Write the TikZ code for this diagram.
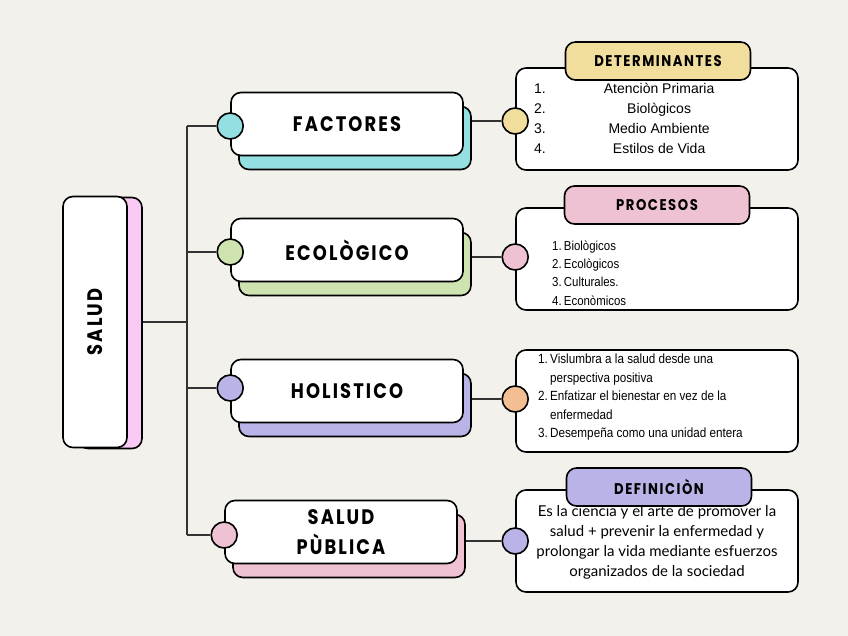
\documentclass[tikz,border=0pt]{standalone}
\usepackage{fontspec}
\usepackage{tikz}
\usetikzlibrary{shadows,positioning}
\setmainfont{Liberation Sans}
\newfontfamily\handfont[FakeStretch=0.85,LetterSpace=10]{Poppins}
\newfontfamily\defifont{Lato}
\newfontfamily\narrowfont[FakeStretch=0.88]{Liberation Sans}
\definecolor{paper}{HTML}{F3F1EC}
\definecolor{wire}{HTML}{333333}
\definecolor{tealc}{HTML}{93DFE1}
\definecolor{greenc}{HTML}{CFE3B1}
\definecolor{purplec}{HTML}{B9B3E7}
\definecolor{pinkc}{HTML}{EEC2D3}
\definecolor{saludpink}{HTML}{F9C9F3}
\definecolor{yellowc}{HTML}{F1DD9C}
\definecolor{orangec}{HTML}{F4BE93}
\pgfdeclarelayer{paperlayer}
\pgfdeclarelayer{wires}
\pgfsetlayers{paperlayer,wires,main}

\begin{document}
\begin{tikzpicture}[x=1pt,y=-1pt,
  box/.style={draw,line width=1.6pt,fill=white,rounded corners=10pt,inner sep=0pt},
  branch/.style={box,minimum width=232pt,minimum height=63pt,align=center,
    font=\handfont\bfseries\fontsize{21}{30}\selectfont},
  shade/.style={copy shadow={shadow xshift=8pt,shadow yshift=-14pt,fill=#1}},
  infobox/.style={box,minimum width=282pt,minimum height=102pt},
  header/.style={box,fill=#1,minimum width=185pt,minimum height=38pt,
    font=\handfont\bfseries\fontsize{15.5}{18}\selectfont},
  dot/.style={circle,draw,line width=1.6pt,fill=#1,minimum size=26pt,inner sep=0pt},
  wire/.style={draw=wire,line width=1.6pt}]
\begin{pgfonlayer}{paperlayer}
\fill[paper] (0,0) rectangle (848,636);
\end{pgfonlayer}
\useasboundingbox (0,0) rectangle (848,636);

\node[box,minimum width=64pt,minimum height=251pt,
  copy shadow={shadow xshift=15pt,shadow yshift=-1pt,fill=saludpink},
  font=\handfont\bfseries\fontsize{21}{30}\selectfont] (salud) at (95,322) {\rotatebox{90}{SALUD}};

\node[branch,shade=tealc] (fac) at (347,124) {FACTORES};
\node[branch,shade=greenc] (eco) at (347,250) {ECOLÒGICO};
\node[branch,shade=purplec] (hol) at (347,391) {HOLISTICO};
\node[branch,shade=pinkc] (pub) at (341,532) {SALUD\\PÙBLICA};

\node[dot=tealc] (facdot) at ([yshift=-2pt]fac.west) {};
\node[dot=greenc] (ecodot) at ([yshift=-2pt]eco.west) {};
\node[dot=purplec] (holdot) at ([yshift=3pt]hol.west) {};
\node[dot=pinkc] (pubdot) at ([yshift=-3pt]pub.west) {};

\node[infobox] (det) at (657,119) {};
\node[infobox] (pro) at (657,259) {};
\node[infobox] (vis) at (657,401) {};
\node[infobox] (def) at (657,541) {};

\node[anchor=west,inner sep=0pt,font=\fontsize{14}{20}\selectfont] (detlist) at (534,120)
  {\begin{tabular}{@{}l@{\hspace{58pt}}c@{}}
   1. & Atenciòn Primaria\\ 2. & Biològicos\\ 3. & Medio Ambiente\\ 4. & Estilos de Vida
   \end{tabular}};
\node[anchor=west,inner sep=0pt,align=left,font=\narrowfont\fontsize{13}{18.3}\selectfont] (prolist) at (552,273)
  {1.\,Biològicos\\2.\,Ecològicos\\3.\,Culturales.\\4.\,Econòmicos};
\node[anchor=west,inner sep=0pt,font=\narrowfont\fontsize{13.3}{18.5}\selectfont] (vislist) at (538,397)
  {\begin{tabular}{@{}l@{\,}l@{}}
   1. & Vislumbra a la salud desde una\\ & perspectiva positiva\\
   2. & Enfatizar el bienestar en vez de la\\ & enfermedad\\
   3. & Desempeña como una unidad entera
   \end{tabular}};
\node[align=center,inner sep=0pt,font=\defifont\fontsize{15}{20}\selectfont] (deftext) at (657,542)
  {Es la ciencia y el arte de promover la\\salud + prevenir la enfermedad y\\prolongar la vida mediante esfuerzos\\organizados de la sociedad};

\node[header=yellowc] (dethead) at (658,61) {DETERMINANTES};
\node[header=pinkc] (prohead) at (657,205) {PROCESOS};
\node[header=purplec] (defhead) at (659,487) {DEFINICIÒN};

\node[dot=yellowc] (detdot) at ([yshift=-2pt]det.west) {};
\node[dot=pinkc] (prodot) at ([yshift=2pt]pro.west) {};
\node[dot=orangec] (visdot) at ([yshift=2pt]vis.west) {};
\node[dot=purplec] (defdot) at (def.west) {};

\coordinate (trunk) at (187,322);
\begin{pgfonlayer}{wires}
\draw[wire] (salud.east) -- (trunk);
\draw[wire] (trunk |- facdot) -- (trunk |- pubdot);
\draw[wire] (trunk |- facdot) -- (facdot);
\draw[wire] (trunk |- ecodot) -- (ecodot);
\draw[wire] (trunk |- holdot) -- (holdot);
\draw[wire] (trunk |- pubdot) -- (pubdot);
\draw[wire] (detdot -| fac.east) -- (detdot);
\draw[wire] (prodot -| eco.east) -- (prodot);
\draw[wire] (visdot -| hol.east) -- (visdot);
\draw[wire] (defdot -| pub.east) -- (defdot);
\end{pgfonlayer}
\end{tikzpicture}
\end{document}
